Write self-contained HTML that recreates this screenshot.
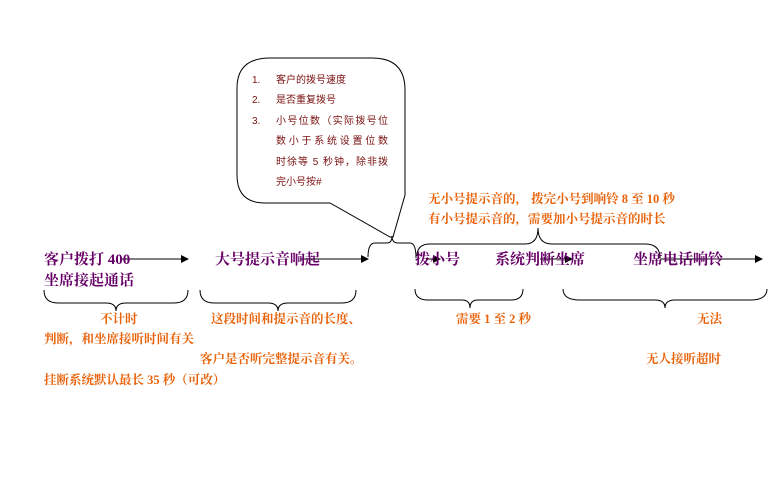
<!DOCTYPE html>
<html><head><meta charset="utf-8"><style>
html,body{margin:0;padding:0;background:#fff;width:768px;height:495px;overflow:hidden}
svg{display:block}
.p{font-family:"Liberation Serif","Noto Serif CJK SC",serif;font-weight:bold;font-size:15px;fill:#660066}
.o{font-family:"Liberation Serif","Noto Serif CJK SC",serif;font-weight:bold;font-size:12.5px;fill:#e8620a}
.b{font-family:"Liberation Sans","Noto Sans CJK SC",sans-serif;font-size:10px;fill:#7a1010}
</style></head><body>
<svg width="768" height="495" viewBox="0 0 768 495" xmlns="http://www.w3.org/2000/svg">
<defs><marker id="a" markerWidth="8" markerHeight="8" refX="7" refY="4" orient="auto" markerUnits="userSpaceOnUse"><path d="M0,0 L8,4 L0,8 Z" fill="#000"/></marker></defs>
<g fill="none" stroke="#000" stroke-width="1">
<path d="M330,203 L265,203 Q237,203 237,175 L237,88 Q237,58 270,58 L372,58 Q405,58 405,90 L405,195 L393,237 L390,237 Z" fill="#fff"/>
<path d="M368,257 Q368,243 375,243 L387,243 Q392,243 392,236 Q392,243 398,243 L410,243 Q416,243 416,258"/>
<path d="M417,256 Q417,244 430,244 L525,244 Q538,244 538,228 Q538,244 552,244 L645,244 Q660,244 660,258"/>
<path d="M44,290 Q44,303 58,303 L106,303 Q116,303 116,311 Q116,303 126,303 L174,303 Q188,303 188,290"/>
<path d="M200,290 Q200,303 214,303 L268,303 Q278,303 278,311 Q278,303 288,303 L342,303 Q356,303 356,290"/>
<path d="M415,289 Q415,300 428,300 L462,300 Q470,300 470,308 Q470,300 478,300 L511,300 Q523,300 523,289"/>
<path d="M563,289 Q563,300 580,300 L655,300 Q665,300 665,308 Q665,300 675,300 L750,300 Q767,300 767,289"/>
<line x1="120" y1="259" x2="188" y2="259" marker-end="url(#a)"/>
<line x1="300" y1="259" x2="368" y2="259" marker-end="url(#a)"/>
<line x1="426" y1="259" x2="440" y2="259" marker-end="url(#a)"/>
<line x1="540" y1="259" x2="572" y2="259" marker-end="url(#a)"/>
<line x1="660" y1="259" x2="762" y2="259" marker-end="url(#a)"/>
</g>
<text class="b" x="252" y="83">1.</text><text class="b" x="276" y="83">客户的拨号速度</text>
<text class="b" x="252" y="103">2.</text><text class="b" x="276" y="103">是否重复拨号</text>
<text class="b" x="252" y="124">3.</text><text class="b" x="276" y="124" textLength="112">小号位数（实际拨号位</text>
<text class="b" x="276" y="144" textLength="112">数小于系统设置位数</text>
<text class="b" x="276" y="165" textLength="112">时徐等 5 秒钟，除非拨</text>
<text class="b" x="276" y="185">完小号按#</text>
<text class="p" x="44" y="264">客户拨打 400</text>
<text class="p" x="44" y="285">坐席接起通话</text>
<text class="p" x="215" y="264">大号提示音响起</text>
<text class="p" x="415" y="264">拨小号</text>
<text class="p" x="495" y="264">系统判断坐席</text>
<text class="p" x="633" y="264">坐席电话响铃</text>
<text class="o" x="428" y="203">无小号提示音的， 拨完小号到响铃 8 至 10 秒</text>
<text class="o" x="428" y="223">有小号提示音的，需要加小号提示音的时长</text>
<text class="o" x="100" y="323">不计时</text>
<text class="o" x="44" y="343">判断，和坐席接听时间有关</text>
<text class="o" x="211" y="323">这段时间和提示音的长度、</text>
<text class="o" x="200" y="363">客户是否听完整提示音有关。</text>
<text class="o" x="44" y="384">挂断系统默认最长 35 秒（可改）</text>
<text class="o" x="456" y="323">需要 1 至 2 秒</text>
<text class="o" x="697" y="323">无法</text>
<text class="o" x="646" y="363">无人接听超时</text>
</svg>
</body></html>
